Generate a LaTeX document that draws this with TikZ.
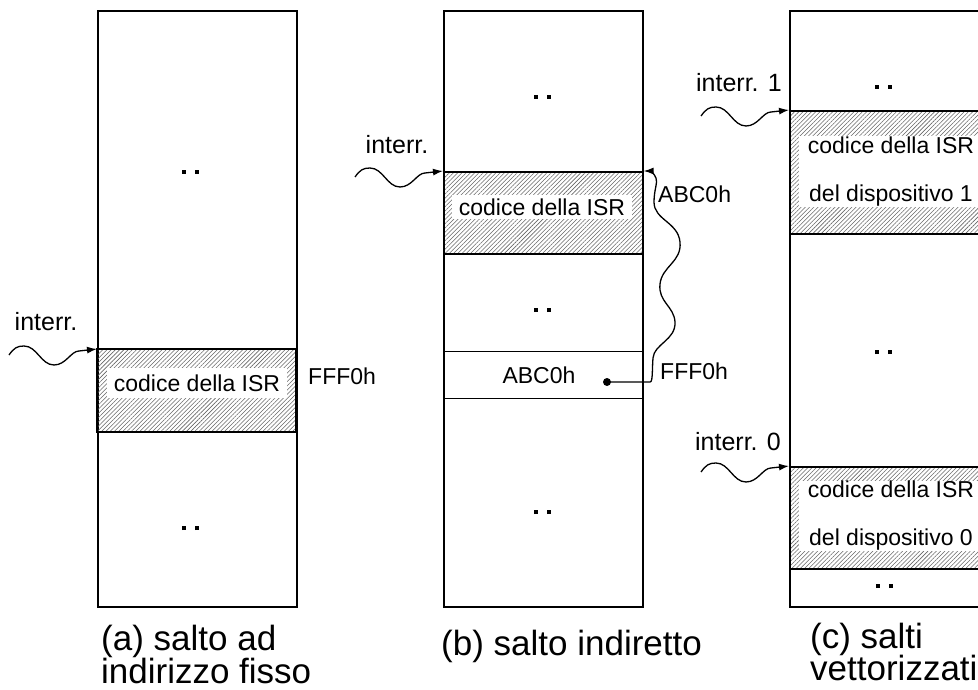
\documentclass[tikz,border=0pt]{standalone}
\usepackage{fontspec}
\setmainfont{Liberation Sans}
\usetikzlibrary{arrows.meta,patterns.meta}
\newcommand\twodots{\rule{4pt}{4pt}\hspace{9pt}\rule{4pt}{4pt}}
\begin{document}
\begin{tikzpicture}[x=1pt,y=-1pt,
  memory/.style={draw, line width=1.8pt, minimum width=199pt, anchor=north west, inner sep=0pt},
  isr/.style={draw, line width=1.6pt, minimum width=199pt, anchor=north west, inner sep=0pt,
    pattern={Lines[angle=45,distance=3pt,line width=0.55pt]}, pattern color=black!60},
  cell/.style={draw, line width=1pt, minimum width=199pt, anchor=north west, inner sep=0pt},
  lab/.style={font=\fontsize{23}{27}\selectfont, inner sep=0pt},
  irq/.style={font=\fontsize{25}{29}\selectfont, inner sep=0pt},
  caption/.style={font=\fontsize{35}{40}\selectfont, inner sep=0pt, anchor=base west},
  isrtext/.style={lab, fill=white, align=center},
  dotrow/.style={inner sep=0pt},
  wavearrow/.style={line width=1.3pt, -{Latex[length=10pt,width=7pt]}}]
\useasboundingbox (0,0) rectangle (978,690);
\clip (0,0) rectangle (978,690);

% (a) fixed address
\node[memory, minimum height=596pt] (boxa) at (97,10) {};
\node[isr, minimum height=83pt] (isra) at (97,349) {};
\node[isrtext, minimum width=180pt, minimum height=30pt] (txta) at (197,383) {codice della ISR};
\node[dotrow] (da1) at (190,172) {\twodots};
\node[dotrow] (da2) at (190,528) {\twodots};
\node[irq] (irqa) at (46,322) {interr.};
\node[lab, anchor=west] (addra) at (308,376) {FFF0h};
\coordinate (wa) at (9,355);
\draw[wavearrow] (wa) .. controls +(5,-7) and +(-7,0) .. ++(15,-9)
  .. controls +(13,0) and +(-13,0) .. ++(30,19)
  .. controls +(12,0) and +(-8,0) .. ++(25,-14) -- (isra.north west);

% (b) indirect jump
\node[memory, minimum height=596pt] (boxb) at (443,10) {};
\node[isr, minimum height=82pt] (isrb) at (443,171) {};
\node[cell, minimum height=47pt] (ptr) at (443,351) {};
\node[isrtext, minimum width=180pt, minimum height=24pt] (txtb) at (542,207) {codice della ISR};
\node[lab] (ptrval) at (539,375) {ABC0h};
\node[circle, fill, inner sep=0pt, minimum size=8pt] (pdot) at (607,382) {};
\node[dotrow] (db1) at (542,97) {\twodots};
\node[dotrow] (db2) at (542,310) {\twodots};
\node[dotrow] (db3) at (542,512) {\twodots};
\node[irq] (irqb) at (397,145) {interr.};
\node[lab, anchor=west] (tgtb) at (658,194) {ABC0h};
\node[lab, anchor=west] (addrb) at (660,371) {FFF0h};
\coordinate (wb) at (355,177);
\draw[wavearrow] (wb) .. controls +(5,-7) and +(-7,0) .. ++(15,-9)
  .. controls +(13,0) and +(-13,0) .. ++(30,19)
  .. controls +(12,0) and +(-8,0) .. ++(25,-14) -- (isrb.north west);
\draw[wavearrow] (pdot.center) -- (650,382)
  .. controls (653,382) and (652,370) .. (653,358)
  .. controls (654,344) and (676,340) .. (675,322)
  .. controls (674,306) and (658,302) .. (660,284)
  .. controls (662,266) and (682,262) .. (680,242)
  .. controls (678,222) and (654,220) .. (654,202)
  .. controls (654,190) and (658,182) .. (656,178)
  .. controls (654,173) and (650,171) .. (isrb.north east);

% (c) vectored jumps
\node[memory, minimum height=596pt] (boxc) at (789,10) {};
\node[isr, minimum height=123pt] (isrc1) at (789,110) {};
\node[isr, minimum height=102pt] (isrc0) at (789,466) {};
\node[isrtext, minimum width=184pt, minimum height=71pt, font=\fontsize{23}{48}\selectfont]
  (txtc1) at (891,172) {codice della ISR\\del dispositivo 1};
\node[isrtext, minimum width=184pt, minimum height=68pt, font=\fontsize{23}{48}\selectfont]
  (txtc0) at (891,516) {codice della ISR\\del dispositivo 0};
\node[dotrow] (dc1) at (883,87) {\twodots};
\node[dotrow] (dc2) at (883,352) {\twodots};
\node[dotrow] (dc3) at (884,586) {\twodots};
\node[irq] (irqc1) at (739,83) {interr. 1};
\node[irq] (irqc0) at (738,442) {interr. 0};
\coordinate (wc1) at (701,116);
\coordinate (wc0) at (701,472);
\draw[wavearrow] (wc1) .. controls +(5,-7) and +(-7,0) .. ++(15,-9)
  .. controls +(13,0) and +(-13,0) .. ++(30,19)
  .. controls +(12,0) and +(-8,0) .. ++(25,-14) -- (isrc1.north west);
\draw[wavearrow] (wc0) .. controls +(5,-7) and +(-7,0) .. ++(15,-9)
  .. controls +(13,0) and +(-13,0) .. ++(30,19)
  .. controls +(12,0) and +(-8,0) .. ++(25,-14) -- (isrc0.north west);

% captions
\node[caption] (capa1) at (101,650) {(a) salto ad};
\node[caption] (capa2) at (101,683) {indirizzo fisso};
\node[caption] (capb) at (441,655) {(b) salto indiretto};
\node[caption] (capc1) at (810,648) {(c) salti};
\node[caption] (capc2) at (810,680) {vettorizzati};
\end{tikzpicture}
\end{document}
